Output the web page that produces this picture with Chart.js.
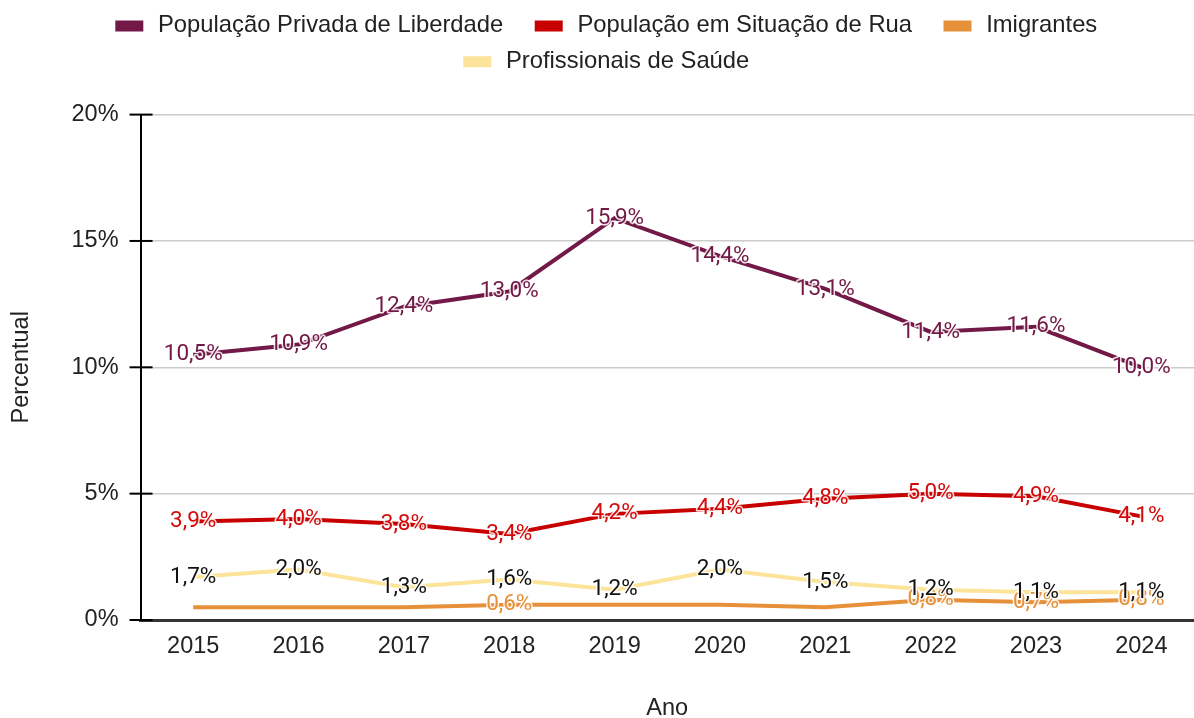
<!DOCTYPE html>
<html lang="pt-BR">
<head>
    <meta charset="UTF-8">
    <title>Percentual por população</title>
    <script src="https://cdn.jsdelivr.net/npm/chart.js"></script>
    <style>
        html, body { margin: 0; padding: 0; background: #fff; }
        #wrap { width: 1194px; height: 718px; }
    </style>
</head>
<body>
    <div id="wrap"><canvas id="grafico"></canvas></div>

    <script>
        const anos = ['2015', '2016', '2017', '2018', '2019', '2020', '2021', '2022', '2023', '2024'];
        const privadaLiberdade = [10.5, 10.9, 12.4, 13.0, 15.9, 14.4, 13.1, 11.4, 11.6, 10.0];
        const situacaoRua = [3.9, 4.0, 3.8, 3.4, 4.2, 4.4, 4.8, 5.0, 4.9, 4.1];
        const imigrantes = [0.5, 0.5, 0.5, 0.6, 0.6, 0.6, 0.5, 0.8, 0.7, 0.8];
        const profissionaisSaude = [1.7, 2.0, 1.3, 1.6, 1.2, 2.0, 1.5, 1.2, 1.1, 1.1];
        // só alguns rótulos de imigrantes aparecem no original
        const imigrantesRotulos = [false, false, false, true, false, false, false, true, true, true];
        const yTicks = [0, 5, 10, 15, 20];

        const fmt = v => v.toFixed(1).replace('.', ',') + '%';
        const fonte = { family: 'Liberation Sans', size: 23.5 };
        const fonteTitulo = { family: 'Liberation Sans', size: 23.5, lineHeight: 0.8 };

        // rótulos de valor centrados em cada ponto
        const rotulos = {
            id: 'rotulos',
            afterDatasetsDraw(chart) {
                const ctx = chart.ctx;
                ctx.save();
                ctx.font = '22.5px Roboto';
                ctx.textAlign = 'center';
                ctx.textBaseline = 'middle';
                ctx.lineJoin = 'round';
                chart.data.datasets.forEach((ds, i) => {
                    const meta = chart.getDatasetMeta(i);
                    meta.data.forEach((pt, j) => {
                        if (ds.showLabel && !ds.showLabel[j]) return;
                        const txt = fmt(ds.data[j]);
                        ctx.strokeStyle = 'rgba(255,255,255,0.85)';
                        ctx.lineWidth = 3;
                        ctx.strokeText(txt, pt.x, pt.y);
                        ctx.fillStyle = ds.labelColor;
                        ctx.fillText(txt, pt.x, pt.y);
                    });
                });
                ctx.restore();
            }
        };

        // marcas pretas cruzando o eixo y
        const marcasY = {
            id: 'marcasY',
            afterDraw(chart) {
                const y = chart.scales.y;
                const ctx = chart.ctx;
                ctx.save();
                ctx.strokeStyle = '#000';
                ctx.lineWidth = 2;
                yTicks.forEach(t => {
                    const py = y.getPixelForValue(t);
                    ctx.beginPath();
                    ctx.moveTo(y.right - 11, py);
                    ctx.lineTo(y.right + 12, py);
                    ctx.stroke();
                });
                ctx.restore();
            }
        };

        // espaço extra abaixo da legenda e pequeno deslocamento dela
        const espacoLegenda = {
            id: 'espacoLegenda',
            afterInit(chart) {
                const fit = chart.legend.fit;
                chart.legend.fit = function () {
                    fit.call(this);
                    this.height += 33;
                };
            },
            afterLayout(chart) {
                const lg = chart.legend;
                lg.left += 21;
                lg.right += 21;
                lg.top += 2;
                lg.bottom += 2;
            }
        };

        const ctx = document.getElementById('grafico').getContext('2d');
        new Chart(ctx, {
            type: 'line',
            data: {
                labels: anos,
                datasets: [
                    {
                        label: 'População Privada de Liberdade',
                        data: privadaLiberdade,
                        borderColor: '#721947',
                        backgroundColor: '#721947',
                        labelColor: '#721947'
                    },
                    {
                        label: 'População em Situação de Rua',
                        data: situacaoRua,
                        borderColor: '#c80000',
                        backgroundColor: '#c80000',
                        labelColor: '#d40a0a'
                    },
                    {
                        label: 'Imigrantes',
                        data: imigrantes,
                        borderColor: '#e6913a',
                        backgroundColor: '#e6913a',
                        labelColor: '#e6913a',
                        showLabel: imigrantesRotulos
                    },
                    {
                        label: 'Profissionais de Saúde',
                        data: profissionaisSaude,
                        borderColor: '#fde49b',
                        backgroundColor: '#fde49b',
                        labelColor: '#111'
                    }
                ]
            },
            options: {
                responsive: true,
                maintainAspectRatio: false,
                animation: false,
                layout: { padding: { top: 0, right: 0, bottom: 0, left: 0 } },
                elements: {
                    line: { borderWidth: 4, tension: 0 },
                    point: { radius: 0, hoverRadius: 0 }
                },
                plugins: {
                    legend: {
                        position: 'top',
                        labels: {
                            font: { family: 'Liberation Sans', size: 23.8 },
                            color: '#222',
                            boxWidth: 24,
                            boxHeight: 7,
                            padding: 12,
                            // folga em volta do texto, como no original
                            generateLabels(chart) {
                                const itens = Chart.defaults.plugins.legend.labels.generateLabels(chart);
                                itens.forEach(it => { it.text = '\u2009' + it.text + '\u2002\u2009\u2009'; });
                                return itens;
                            }
                        }
                    },
                    tooltip: { enabled: false }
                },
                scales: {
                    x: {
                        offset: true,
                        grid: { display: false, drawTicks: false },
                        border: { color: '#333', width: 3 },
                        ticks: {
                            font: fonte,
                            color: '#222',
                            padding: 12
                        },
                        title: {
                            display: true,
                            text: 'Ano',
                            font: fonteTitulo,
                            color: '#222',
                            padding: { top: 27, bottom: 0 }
                        }
                    },
                    y: {
                        min: 0,
                        max: 20,
                        afterBuildTicks: axis => { axis.ticks = yTicks.map(v => ({ value: v })); },
                        grid: { color: '#cccccc', lineWidth: 1.5, drawTicks: false },
                        border: { color: '#000', width: 2 },
                        ticks: {
                            font: fonte,
                            color: '#222',
                            padding: 22,
                            callback: v => v + '%'
                        },
                        title: {
                            display: true,
                            text: 'Percentual',
                            font: { family: 'Liberation Sans', size: 23.5, lineHeight: 1 },
                            color: '#222',
                            padding: { top: 10, bottom: 16 }
                        }
                    }
                }
            },
            plugins: [rotulos, marcasY, espacoLegenda]
        });
    </script>
</body>
</html>
